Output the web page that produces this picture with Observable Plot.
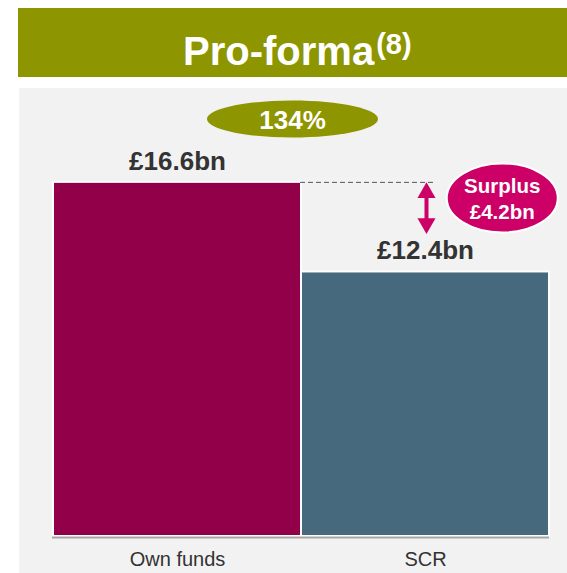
<!DOCTYPE html>
<html>
<head>
<meta charset="utf-8">
<script src="https://cdn.jsdelivr.net/npm/d3@7"></script>
<script src="https://cdn.jsdelivr.net/npm/@observablehq/plot@0.6"></script>
<style>
  html, body { margin: 0; padding: 0; background: #ffffff; }
  body { width: 567px; height: 573px; position: relative; overflow: hidden; font-family: "Liberation Sans", Arial, sans-serif; }
  #header { position: absolute; left: 18px; top: 8px; width: 549px; height: 69px; background: #8d9500; }
  #title { position: absolute; left: 165px; top: 23px; font-size: 40px; line-height: 40px; font-weight: bold; color: #ffffff; white-space: nowrap; }
  #title span { font-size: 29px; position: relative; top: -11px; margin-left: 2px; }
  #panel { position: absolute; left: 19px; top: 88px; width: 548px; height: 485px; background: #f2f2f2; }
  #panel svg { display: block; }
</style>
</head>
<body>
<div id="header"><div id="title"></div></div>
<div id="panel"></div>
<script>
const titleText = "Pro-forma";
const titleNote = "(8)";
const categories = ["Own funds", "SCR"];
const values = [16.6, 12.4];
const valueLabels = ["£16.6bn", "£12.4bn"];
const ratioLabel = ["134%"];
const surplusLabel = ["Surplus\n£4.2bn"];
const barColors = ["#910048", "#46697d"];

const t = document.getElementById("title");
t.textContent = titleText;
const sup = document.createElement("span");
sup.textContent = titleNote;
t.appendChild(sup);

const data = categories.map((c, i) => ({cat: c, value: values[i], label: valueLabels[i], color: barColors[i]}));

function ellipse(rx, ry) {
  const k = 0.5523;
  return {
    draw(ctx) {
      const kx = rx * k, ky = ry * k;
      ctx.moveTo(rx, 0);
      ctx.bezierCurveTo(rx, ky, kx, ry, 0, ry);
      ctx.bezierCurveTo(-kx, ry, -rx, ky, -rx, 0);
      ctx.bezierCurveTo(-rx, -ky, -kx, -ry, 0, -ry);
      ctx.bezierCurveTo(kx, -ry, rx, -ky, rx, 0);
      ctx.closePath();
    }
  };
}

const own = values[0], scr = values[1];
const font = "'Liberation Sans', Arial, sans-serif";

const chart = Plot.plot({
  width: 548,
  height: 485,
  marginLeft: 33,
  marginRight: 18,
  marginTop: 0,
  marginBottom: 37,
  style: {background: "transparent", fontFamily: font},
  x: {domain: categories, padding: 0, label: null},
  y: {domain: [0, 21], axis: null},
  marks: [
    Plot.barY(data, {x: "cat", y: "value", fill: "color", stroke: "#ffffff", strokeWidth: 2}),
    Plot.ruleY([0], {stroke: "#a6a6a6", strokeWidth: 2, dy: 1}),
    Plot.axisX({tickSize: 0, tickPadding: 15, fontSize: 20, fill: "#333333"}),
    Plot.text(data, {x: "cat", y: "value", text: "label", lineAnchor: "bottom", dy: -12.5, fontSize: 26, fontWeight: "bold", fill: "#333333"}),
    // dashed line from Own funds top
    Plot.ruleY([own], {stroke: "#555555", strokeWidth: 1, strokeDasharray: "5,3", insetLeft: 248, insetRight: 114}),
    // double arrow
    Plot.ruleX([categories[1]], {y1: own, y2: scr, stroke: "#cc0066", strokeWidth: 4, insetTop: 12, insetBottom: 48, dx: 1}),
    Plot.dot([categories[1]], {x: d => d, y: own, symbol: "triangle", r: 6.7, fill: "#cc0066", stroke: "none", dy: 10.4, dx: 1}),
    Plot.dot([categories[1]], {x: d => d, y: scr, symbol: "triangle", r: 6.7, fill: "#cc0066", stroke: "none", rotate: 180, dy: -48.4, dx: 1}),
    // ratio ellipse
    Plot.dot(ratioLabel, {x: () => categories[0], y: 19.57, symbol: ellipse(85.5, 18.5), fill: "#8d9500", stroke: "none", dx: 115}),
    Plot.text(ratioLabel, {x: () => categories[0], y: 19.57, text: d => d, dx: 115, dy: 1.5, fontSize: 26, fontWeight: "bold", fill: "#ffffff"}),
    // surplus ellipse
    Plot.dot(surplusLabel, {x: () => categories[1], y: 15.87, symbol: ellipse(55.5, 34.5), fill: "#cc0066", stroke: "#ffffff", strokeWidth: 2, dx: 76.75}),
    Plot.text(surplusLabel, {x: () => categories[1], y: 15.87, text: d => d, dx: 76.75, dy: 0, lineHeight: 1.24, fontSize: 20.5, fontWeight: "bold", fill: "#ffffff"})
  ]
});
document.getElementById("panel").appendChild(chart);
</script>
</body>
</html>
